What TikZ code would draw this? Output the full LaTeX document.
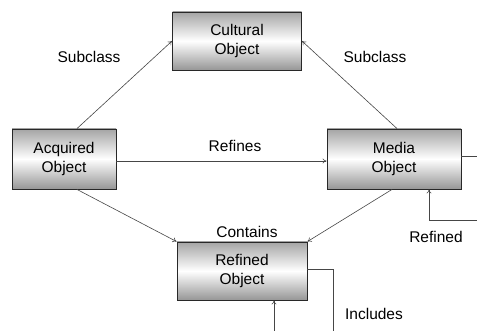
\documentclass[tikz,border=0pt]{standalone}
\usepackage{fontspec}
\setmainfont{Liberation Sans}
\usepackage{tikz}
\usetikzlibrary{arrows.meta, positioning, calc}
\definecolor{mydark}{RGB}{40,40,40}
\definecolor{myline}{RGB}{70,70,70}
\definecolor{boxedge}{RGB}{165,165,165}
\definecolor{boxlow}{RGB}{150,150,150}
\tikzset{
  objbox/.style={rectangle, draw=mydark, top color=boxedge, bottom color=boxlow,
    middle color=white, align=center, inner sep=0pt,
    font=\fontsize{15.5}{18.5}\selectfont, line width=0.9pt},
  lbl/.style={font=\fontsize{15.5}{18.5}\selectfont, color=black},
  arrow/.style={-{To[length=4pt,width=5pt]}, line width=0.6pt, color=myline},
  line/.style={line width=0.6pt, color=myline}
}
\begin{document}
\begin{tikzpicture}[x=1pt, y=-1pt]
  \useasboundingbox (0,0) rectangle (477,331);
  % objects
  \node[objbox, minimum width=129pt, minimum height=58pt] (cult) at (237,41) {Cultural\\Object};
  \node[objbox, minimum width=104pt, minimum height=60pt] (acq)  at (64,159)  {Acquired\\Object};
  \node[objbox, minimum width=134pt, minimum height=60pt] (media) at (394,159) {Media\\Object};
  \node[objbox, minimum width=130pt, minimum height=58pt] (ref)  at (242,271) {Refined\\Object};
  % free ends
  \coordinate (mout) at (477,156);
  \coordinate (rin)  at (477,220);
  \coordinate (iout) at (333,331);
  \coordinate (iin)  at (274,331);
  % connectors
  \draw[arrow] ([xshift=13pt]acq.north) -- (cult.west);
  \draw[arrow] ([xshift=3pt]media.north) -- (cult.east);
  \draw[arrow] ([yshift=-2pt]acq.east) -- ([yshift=-2pt]media.west);
  \draw[arrow] ([xshift=13pt]acq.south) -- (ref.north west);
  \draw[arrow] ([xshift=-2pt]media.south) -- (ref.north east);
  \draw[line]  ([yshift=3pt]media.east) -- (mout);
  \draw[arrow] (rin) -| ([xshift=35pt]media.south);
  \draw[line]  ([yshift=2pt]ref.east) -| (iout);
  \draw[arrow] (iin) -- ([xshift=32pt]ref.south);
  % labels
  \node[lbl] (sub1) at (89,57)   {Subclass};
  \node[lbl] (sub2) at (375,57)  {Subclass};
  \node[lbl] (refs) at (235,146) {Refines};
  \node[lbl] (cont) at (247,232) {Contains};
  \node[lbl] (rfd)  at (436,237) {Refined};
  \node[lbl] (incl) at (374,314) {Includes};
\end{tikzpicture}
\end{document}
